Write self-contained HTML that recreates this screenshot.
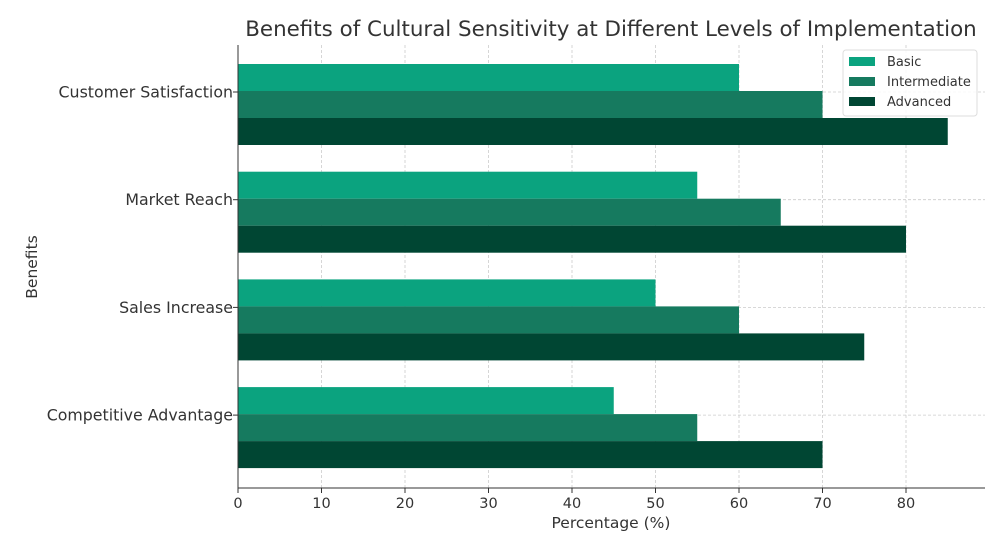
<!DOCTYPE html>
<html><head><meta charset="utf-8"><style>
body{margin:0;background:#fff;font-family:"DejaVu Sans","Liberation Sans",sans-serif;}
</style></head><body>
<svg id="chart" width="1004" height="544" xmlns="http://www.w3.org/2000/svg" font-family="DejaVu Sans, Liberation Sans, sans-serif">
<text x="611" y="36" text-anchor="middle" font-size="21.4" fill="#333">Benefits of Cultural Sensitivity at Different Levels of Implementation</text>
<g id="grid"></g><g id="bars"></g><g id="axes"></g>
<text x="611" y="528" text-anchor="middle" font-size="15.5" fill="#333">Percentage (%)</text>
<text transform="translate(37,267) rotate(-90)" text-anchor="middle" font-size="15.5" fill="#333">Benefits</text>
<g>
<rect x="843" y="50" width="134" height="66" rx="3" fill="#fff" fill-opacity="0.85" stroke="#ddd"/>
<rect x="849" y="57" width="26" height="9" fill="#0ba37f"/>
<text x="887" y="66" font-size="13" fill="#333">Basic</text>
<rect x="849" y="77" width="26" height="9" fill="#167a5f"/>
<text x="887" y="86" font-size="13" fill="#333">Intermediate</text>
<rect x="849" y="97" width="26" height="9" fill="#004633"/>
<text x="887" y="106" font-size="13" fill="#333">Advanced</text>
</g>
</svg>
<script>
const categories=["Customer Satisfaction","Market Reach","Sales Increase","Competitive Advantage"];
const basic=[60,55,50,45];
const intermediate=[70,65,60,55];
const advanced=[85,80,75,70];
const xTicks=[0,10,20,30,40,50,60,70,80];
const NS="http://www.w3.org/2000/svg";
const x0=238,pxPer=8.35,top0=64,groupStep=107.7,barH=27,plotTop=45,plotBottom=488,plotRight=985;
const xs=v=>x0+v*pxPer;
function mk(tag,attrs,parent){const e=document.createElementNS(NS,tag);for(const k in attrs)e.setAttribute(k,attrs[k]);parent.appendChild(e);return e;}
const grid=document.getElementById('grid'),bars=document.getElementById('bars'),axes=document.getElementById('axes');
xTicks.forEach(t=>{
 const g=mk('line',{x1:xs(t),x2:xs(t),y1:plotTop,y2:plotBottom,stroke:'#ccc','stroke-dasharray':'3,2','stroke-width':0.8},grid);
 
 
 const tk=mk('line',{x1:xs(t),x2:xs(t),y1:plotBottom,y2:plotBottom+5,stroke:'#333'},axes);
 
 
 const tx=mk('text',{x:xs(t),y:plotBottom+20,'text-anchor':'middle','font-size':14.5,fill:'#333'},axes);
 tx.textContent=t;
 
 
});
const series=[[basic,'#0ba37f','basic'],[intermediate,'#167a5f','intermediate'],[advanced,'#004633','advanced']];
categories.forEach((c,i)=>{
 const gy=top0+i*groupStep;
 const hg=mk('line',{x1:x0,x2:plotRight,y1:gy+28,y2:gy+28,stroke:'#ccc','stroke-dasharray':'3,2','stroke-width':0.8},grid);
 
 
 series.forEach((s,j)=>{
  const r=mk('rect',{x:x0,y:gy+j*barH,width:xs(s[0][i])-x0,height:barH,fill:s[1]},bars);
  
  
 });
 const tk=mk('line',{x1:x0-5,x2:x0,y1:gy+28,y2:gy+28,stroke:'#333'},axes);
 
 
 const t=mk('text',{x:x0-5,y:gy+33.5,'text-anchor':'end','font-size':15.8,fill:'#333'},axes);
 t.textContent=c;
 
 
});
const l1=mk('line',{x1:x0,x2:x0,y1:plotTop,y2:plotBottom,stroke:'#333','stroke-width':1},axes);


const l2=mk('line',{x1:x0,x2:plotRight,y1:plotBottom,y2:plotBottom,stroke:'#333','stroke-width':1},axes);


</script>
</body></html>
